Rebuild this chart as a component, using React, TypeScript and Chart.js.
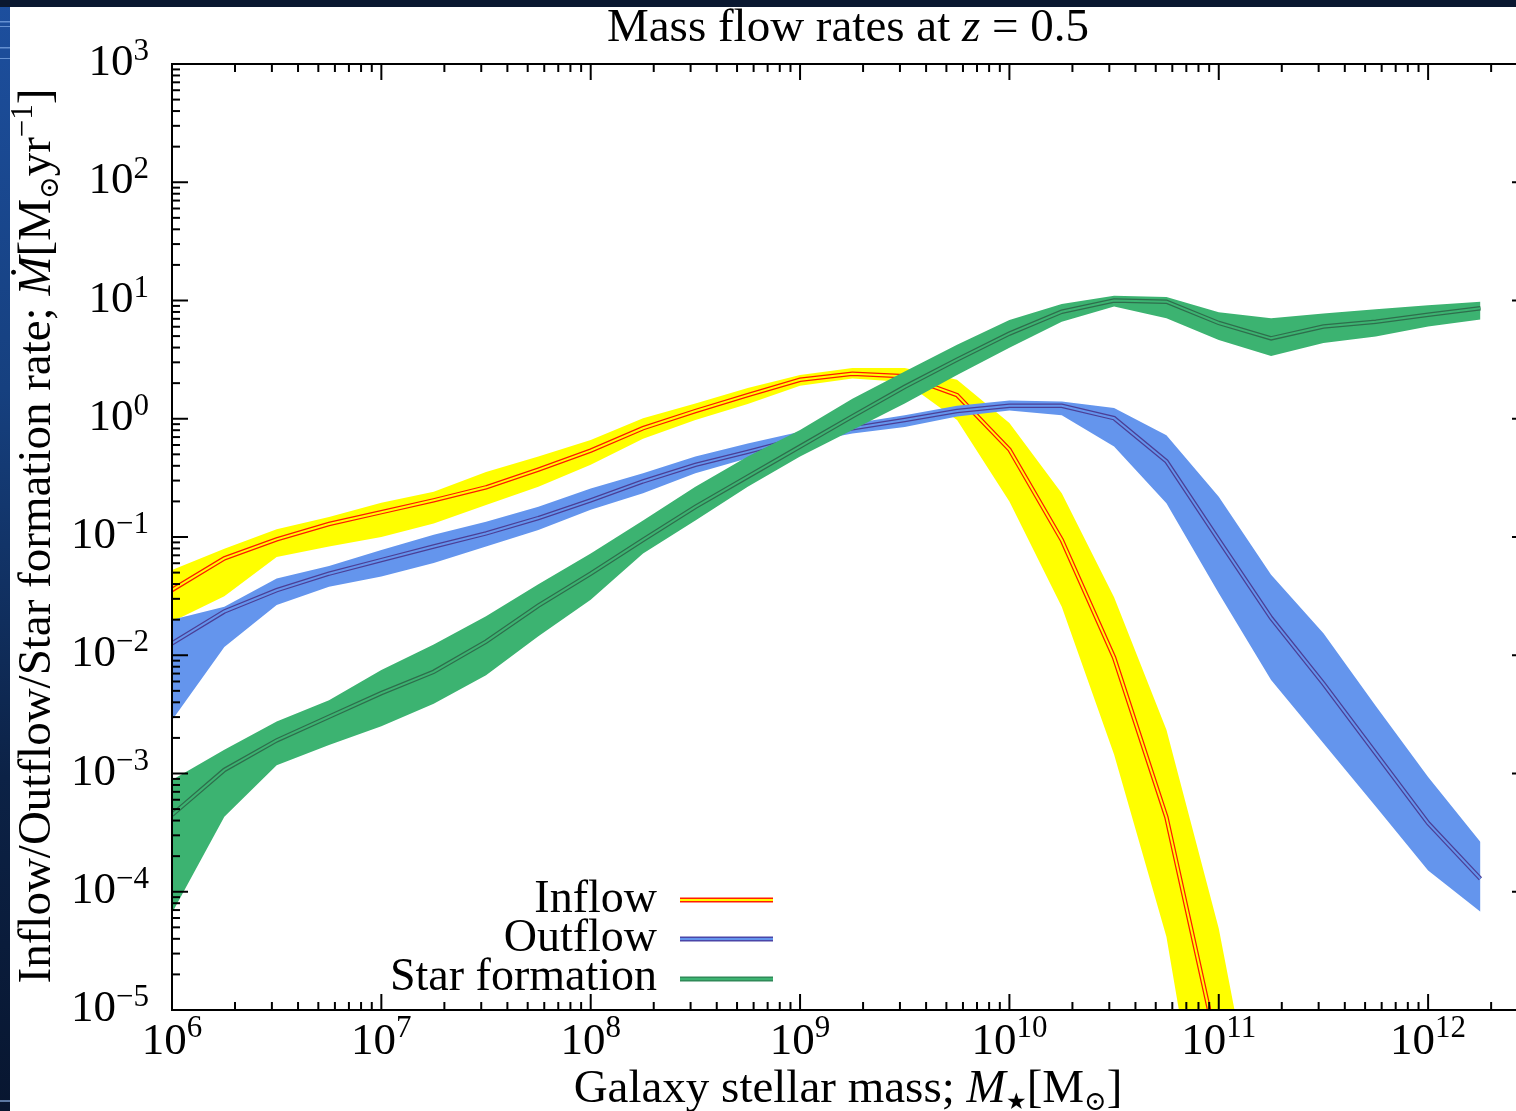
import React, { useEffect, useRef } from "react";
import { Chart, registerables } from "chart.js";

Chart.register(...registerables);

// log10 of galaxy stellar mass at each sampled bin
const logMass = [6.0, 6.25, 6.5, 6.75, 7.0, 7.25, 7.5, 7.75, 8.0, 8.25, 8.5, 8.75, 9.0, 9.25, 9.5, 9.75, 10.0, 10.25, 10.5, 10.75, 11.0, 11.25, 11.5, 11.75, 12.0, 12.25];

// log10 of rates [Msun/yr]
const inflowMedian = [-1.448, -1.18, -1.02, -0.89, -0.79, -0.69, -0.58, -0.43, -0.27, -0.08, 0.065, 0.2, 0.33, 0.38, 0.36, 0.2, -0.26, -1.025, -2.02, -3.37, -5.37, -7.5];
const inflowUpper = [-1.28, -1.1, -0.935, -0.83, -0.71, -0.617, -0.45, -0.32, -0.18, 0.005, 0.13, 0.26, 0.37, 0.43, 0.43, 0.33, -0.035, -0.63, -1.51, -2.63, -4.31, -6.6];
const inflowLower = [-1.716, -1.5, -1.17, -1.08, -1.0, -0.885, -0.73, -0.575, -0.39, -0.17, -0.01, 0.125, 0.28, 0.34, 0.31, -0.01, -0.7, -1.59, -2.84, -4.38, -6.98, -8.5];

const outflowMedian = [-1.9, -1.63, -1.45, -1.31, -1.195, -1.08, -0.97, -0.84, -0.69, -0.53, -0.39, -0.28, -0.165, -0.08, -0.01, 0.065, 0.11, 0.11, 0.005, -0.36, -1.025, -1.685, -2.24, -2.83, -3.42, -3.89];
const outflowUpper = [-1.7, -1.59, -1.35, -1.245, -1.11, -0.98, -0.87, -0.745, -0.59, -0.46, -0.32, -0.21, -0.11, -0.04, 0.03, 0.11, 0.155, 0.145, 0.09, -0.14, -0.66, -1.32, -1.815, -2.43, -3.03, -3.58];
const outflowLower = [-2.55, -1.93, -1.575, -1.42, -1.335, -1.22, -1.08, -0.94, -0.77, -0.63, -0.46, -0.335, -0.21, -0.125, -0.07, 0.02, 0.07, 0.03, -0.235, -0.715, -1.475, -2.21, -2.745, -3.28, -3.82, -4.17];

const sfMedian = [-3.35, -2.97, -2.72, -2.52, -2.32, -2.14, -1.885, -1.58, -1.31, -1.025, -0.745, -0.49, -0.235, 0.02, 0.27, 0.5, 0.72, 0.905, 1.0, 0.99, 0.81, 0.68, 0.78, 0.82, 0.88, 0.935];
const sfUpper = [-3.055, -2.8, -2.56, -2.38, -2.125, -1.91, -1.67, -1.4, -1.14, -0.86, -0.575, -0.32, -0.095, 0.17, 0.4, 0.625, 0.835, 0.97, 1.04, 1.03, 0.9, 0.85, 0.89, 0.925, 0.96, 0.99];
const sfLower = [-4.18, -3.365, -2.93, -2.76, -2.6, -2.41, -2.17, -1.84, -1.53, -1.14, -0.86, -0.575, -0.32, -0.095, 0.13, 0.37, 0.6, 0.82, 0.95, 0.85, 0.665, 0.53, 0.64, 0.695, 0.78, 0.84];

const xTickExponents = [6, 7, 8, 9, 10, 11, 12];
const yTickExponents = [-5, -4, -3, -2, -1, 0, 1, 2, 3];
const legendLabels = ["Inflow", "Outflow", "Star formation"];

const X_MIN = 1e6;
const X_MAX = 3e12;
const Y_MIN = 1e-5;
const Y_MAX = 1e3;

const CANVAS_W = 1545;
const CANVAS_H = 1111;

const FAM = "'Liberation Serif', 'Times New Roman', 'DejaVu Serif', serif";

type Part = { t: string; size: number; italic?: boolean; dy?: number };

const fontOf = (p: Part) => `${p.italic ? "italic " : ""}${p.size}px ${FAM}`;

function richWidth(ctx: CanvasRenderingContext2D, parts: Part[]) {
  let w = 0;
  for (const p of parts) {
    ctx.font = fontOf(p);
    w += ctx.measureText(p.t).width;
  }
  return w;
}

function drawRich(ctx: CanvasRenderingContext2D, parts: Part[], x: number, y: number, align: "left" | "center" | "right") {
  const w = richWidth(ctx, parts);
  let cx = align === "center" ? x - w / 2 : align === "right" ? x - w : x;
  ctx.textAlign = "left";
  ctx.textBaseline = "alphabetic";
  for (const p of parts) {
    ctx.font = fontOf(p);
    ctx.fillText(p.t, cx, y + (p.dy || 0));
    cx += ctx.measureText(p.t).width;
  }
}

const expText = (e: number) => (e < 0 ? "\u2212" + Math.abs(e) : String(e));

const toPoints = (vals: number[]) => vals.map((v, i) => ({ x: Math.pow(10, logMass[i]), y: Math.pow(10, v) }));

const backgroundPlugin = {
  id: "pageBackground",
  beforeDraw(chart: any) {
    const ctx: CanvasRenderingContext2D = chart.ctx;
    ctx.save();
    ctx.fillStyle = "#0a1830";
    ctx.fillRect(0, 0, chart.width, chart.height);
    const g = ctx.createLinearGradient(0, 0, 0, chart.height);
    g.addColorStop(0, "#1d4f9e");
    g.addColorStop(0.35, "#16407f");
    g.addColorStop(0.7, "#0c2246");
    g.addColorStop(1, "#081630");
    ctx.fillStyle = g;
    ctx.fillRect(0, 7, 10, chart.height - 7);
    ctx.fillStyle = "rgba(160,200,255,0.55)";
    ctx.fillRect(0, 21, 10, 1.5);
    ctx.fillRect(0, 26, 10, 1);
    ctx.fillRect(0, 47, 10, 1.5);
    ctx.fillRect(0, 58, 10, 1);
    ctx.fillRect(0, 1100, 10, 2);
    ctx.fillStyle = "#ffffff";
    ctx.fillRect(10, 7, chart.width - 10, chart.height - 7);
    ctx.restore();
  },
};

const axesPlugin = {
  id: "customAxes",
  afterDatasetsDraw(chart: any) {
    const ctx: CanvasRenderingContext2D = chart.ctx;
    const xs = chart.scales.x;
    const ys = chart.scales.y;
    const { left, right, top, bottom } = chart.chartArea;
    ctx.save();
    ctx.strokeStyle = "#000";
    ctx.fillStyle = "#000";
    ctx.lineWidth = 2;
    ctx.lineCap = "butt";
    const seg = (x1: number, y1: number, x2: number, y2: number) => {
      ctx.beginPath();
      ctx.moveTo(x1, y1);
      ctx.lineTo(x2, y2);
      ctx.stroke();
    };
    ctx.strokeRect(left, top, right - left, bottom - top);

    // x ticks (bottom & top, pointing inward)
    for (let e = 6; e <= 12; e++) {
      for (let m = 1; m <= 9; m++) {
        const v = m * Math.pow(10, e);
        if (v > X_MAX * 1.0001) continue;
        const px = xs.getPixelForValue(v);
        const len = m === 1 ? 16 : 8;
        seg(px, bottom, px, bottom - len);
        seg(px, top, px, top + len);
      }
    }
    // y ticks (left & right, pointing inward)
    for (let e = -5; e <= 3; e++) {
      for (let m = 1; m <= 9; m++) {
        const v = m * Math.pow(10, e);
        if (v > Y_MAX * 1.0001) continue;
        const py = ys.getPixelForValue(v);
        const len = m === 1 ? 16 : 8;
        seg(left, py, left + len, py);
        seg(right, py, right - len, py);
      }
    }

    // tick labels
    for (const e of xTickExponents) {
      const px = xs.getPixelForValue(Math.pow(10, e));
      drawRich(ctx, [{ t: "10", size: 45 }, { t: expText(e), size: 31, dy: -17 }], px, bottom + 44, "center");
    }
    for (const e of yTickExponents) {
      const py = ys.getPixelForValue(Math.pow(10, e));
      drawRich(ctx, [{ t: "10", size: 45 }, { t: expText(e), size: 31, dy: -15 }], 149, py + 11, "right");
    }

    // title
    drawRich(
      ctx,
      [
        { t: "Mass flow rates at ", size: 47 },
        { t: "z", size: 47, italic: true },
        { t: " = 0.5", size: 47 },
      ],
      848,
      41,
      "center"
    );

    // x axis title
    drawRich(
      ctx,
      [
        { t: "Galaxy stellar mass; ", size: 47 },
        { t: "M", size: 47, italic: true },
        { t: "\u2605", size: 23, dy: 7 },
        { t: "[M", size: 47 },
        { t: "\u2299", size: 27, dy: 8 },
        { t: "]", size: 47 },
      ],
      848,
      1102,
      "center"
    );

    // y axis title (rotated)
    ctx.save();
    ctx.translate(50, 536);
    ctx.rotate(-Math.PI / 2);
    drawRich(
      ctx,
      [
        { t: "Inflow/Outflow/Star formation rate; ", size: 47 },
        { t: "\u1E40", size: 47, italic: true },
        { t: "[M", size: 47 },
        { t: "\u2299", size: 27, dy: 8 },
        { t: "yr", size: 47 },
        { t: "\u22121", size: 31, dy: -18 },
        { t: "]", size: 47 },
      ],
      0,
      0,
      "center"
    );
    ctx.restore();

    // legend
    const legendStyles = [
      { outer: "#ff2000", inner: "#ffff00" },
      { outer: "#4a46a8", inner: "#6495ed" },
      { outer: "#2f8a58", inner: "#3cb371" },
    ];
    const baselines = [912, 951, 990];
    const lineYs = [900, 939, 979];
    legendLabels.forEach((lab, i) => {
      drawRich(ctx, [{ t: lab, size: 46 }], 657, baselines[i], "right");
      ctx.lineWidth = 5;
      ctx.strokeStyle = legendStyles[i].outer;
      seg(680, lineYs[i], 773, lineYs[i]);
      ctx.lineWidth = 2;
      ctx.strokeStyle = legendStyles[i].inner;
      seg(680, lineYs[i], 773, lineYs[i]);
    });

    ctx.restore();
  },
};

function bandDatasets(lower: number[], upper: number[], median: number[], fillColor: string, darkColor: string, baseOrder: number) {
  const common = { pointRadius: 0, pointHoverRadius: 0, tension: 0, clip: 0 };
  return [
    { ...common, data: toPoints(lower), borderWidth: 0, borderColor: "rgba(0,0,0,0)", fill: false, order: baseOrder + 3 },
    { ...common, data: toPoints(upper), borderWidth: 0, borderColor: "rgba(0,0,0,0)", backgroundColor: fillColor, fill: "-1", order: baseOrder + 2 },
    { ...common, data: toPoints(median), borderWidth: 4.5, borderColor: darkColor, fill: false, order: baseOrder + 1 },
    { ...common, data: toPoints(median), borderWidth: 2, borderColor: fillColor, fill: false, order: baseOrder },
  ];
}

export default function App() {
  const canvasRef = useRef<HTMLCanvasElement | null>(null);

  useEffect(() => {
    const canvas = canvasRef.current;
    if (!canvas) return;
    const datasets: any[] = [
      ...bandDatasets(inflowLower, inflowUpper, inflowMedian, "#ffff00", "#ff1a00", 30),
      ...bandDatasets(outflowLower, outflowUpper, outflowMedian, "#6495ed", "#4b3f96", 20),
      ...bandDatasets(sfLower, sfUpper, sfMedian, "#3cb371", "#2e6e4c", 10),
    ];
    const chart = new Chart(canvas, {
      type: "line",
      data: { datasets },
      options: {
        responsive: false,
        animation: false,
        devicePixelRatio: 1,
        parsing: true,
        layout: { padding: { left: 172, top: 64, right: CANVAS_W - 1528, bottom: CANVAS_H - 1010 } },
        plugins: { legend: { display: false }, tooltip: { enabled: false }, title: { display: false } },
        events: [],
        scales: {
          x: { type: "logarithmic", min: X_MIN, max: X_MAX, display: false },
          y: { type: "logarithmic", min: Y_MIN, max: Y_MAX, display: false },
        },
      },
      plugins: [backgroundPlugin, axesPlugin],
    } as any);
    return () => chart.destroy();
  }, []);

  return (
    <div style={{ position: "fixed", left: 0, top: 0, width: 1516, height: 1111, overflow: "hidden", background: "#fff" }}>
      <canvas ref={canvasRef} width={CANVAS_W} height={CANVAS_H} style={{ display: "block", width: CANVAS_W, height: CANVAS_H }} />
    </div>
  );
}
